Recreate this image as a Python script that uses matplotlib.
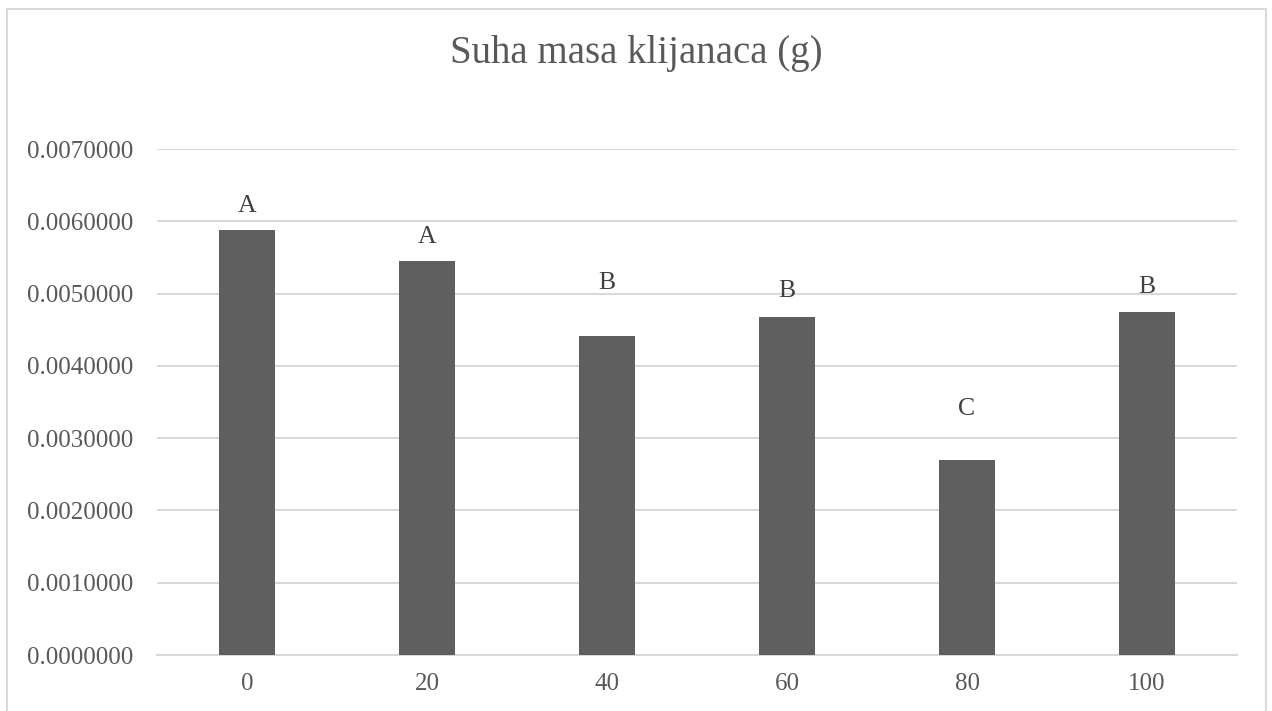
import matplotlib.pyplot as plt
from matplotlib.patches import Rectangle

# Suha masa klijanaca po tretmanu
tretmani = ["0", "20", "40", "60", "80", "100"]
masa = [0.00588, 0.00545, 0.00441, 0.00468, 0.00270, 0.00474]
slova = ["A", "A", "B", "B", "C", "B"]
slova_y = [0.00621, 0.00578, 0.00515, 0.00503, 0.00341, 0.00509]

plt.rcParams['font.family'] = ['Liberation Serif', 'DejaVu Serif']

fig = plt.figure(figsize=(12.72, 7.11), dpi=100)
ax = fig.add_axes([157 / 1272, 56 / 711, 1080 / 1272, 506 / 711])

x = range(len(tretmani))
ax.bar(x, masa, width=0.31, color="#5f5f5f", zorder=3)
for i, (s, y) in enumerate(zip(slova, slova_y)):
    ax.text(i, y, s, ha="center", va="center", fontsize=18.5, color="#404040")

ax.set_xlim(-0.5, len(tretmani) - 0.5)
ax.set_ylim(0, 0.007)
ax.set_yticks([i * 0.001 for i in range(8)])
ax.set_yticklabels([f"{i * 0.001:.7f}" for i in range(8)])
ax.set_xticks(list(x))
ax.set_xticklabels(tretmani)
ax.tick_params(axis="both", length=0, labelsize=18, labelcolor="#595959")
ax.tick_params(axis="y", pad=17)
ax.tick_params(axis="x", pad=13)
ax.grid(axis="y", color="#d9d9d9", linewidth=1.5, zorder=0)
for side in ["top", "right", "left"]:
    ax.spines[side].set_visible(False)
ax.spines["bottom"].set_color("#d9d9d9")
ax.spines["bottom"].set_linewidth(1.5)

fig.text(0.5, 1 - 53 / 711, "Suha masa klijanaca (g)", ha="center", va="center",
         fontsize=28, color="#595959")

# okvir grafikona
fig.patches.append(Rectangle((6.5 / 1272, -0.05), 1259 / 1272, 1.05 - 8.5 / 711,
                             transform=fig.transFigure, fill=False,
                             edgecolor="#d9d9d9", linewidth=1.5))

fig.savefig("out.png", dpi=100)
